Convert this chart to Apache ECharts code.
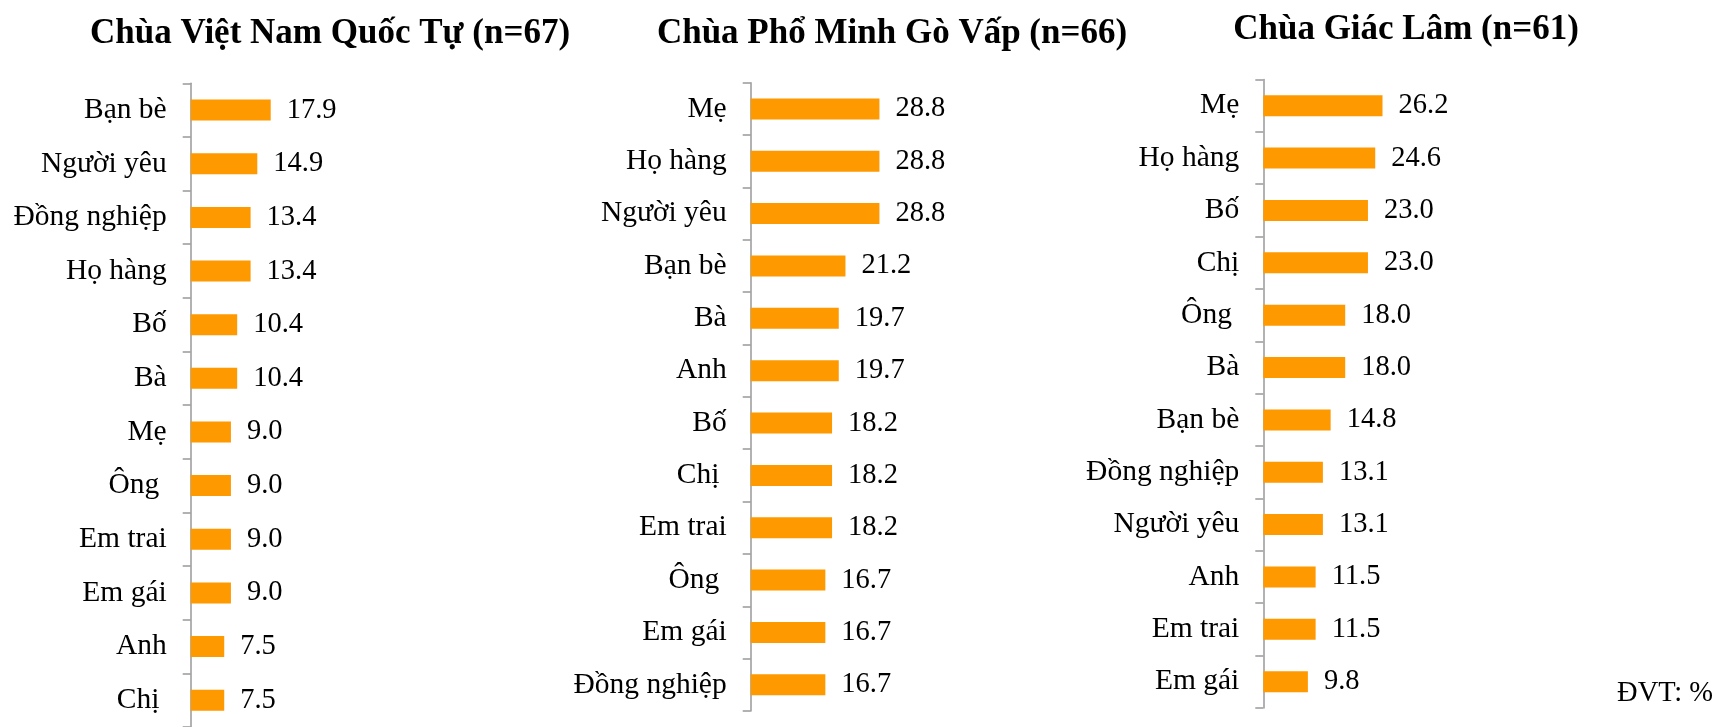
<!DOCTYPE html>
<html><head><meta charset="utf-8">
<script src="https://cdn.jsdelivr.net/npm/echarts@6/dist/echarts.min.js"></script>
<style>html,body{margin:0;padding:0;background:#fff}#c{width:1718px;height:727px}</style>
</head><body><div id="c"></div>
<script>
const titles = ['Chùa Việt Nam Quốc Tự (n=67)', 'Chùa Phổ Minh Gò Vấp (n=66)', 'Chùa Giác Lâm (n=61)'];
const cats1 = ['Bạn bè','Người yêu','Đồng nghiệp','Họ hàng','Bố','Bà','Mẹ','Ông ','Em trai','Em gái','Anh','Chị '];
const vals1 = [17.9,14.9,13.4,13.4,10.4,10.4,9.0,9.0,9.0,9.0,7.5,7.5];
const cats2 = ['Mẹ','Họ hàng','Người yêu','Bạn bè','Bà','Anh','Bố','Chị ','Em trai','Ông ','Em gái','Đồng nghiệp'];
const vals2 = [28.8,28.8,28.8,21.2,19.7,19.7,18.2,18.2,18.2,16.7,16.7,16.7];
const cats3 = ['Mẹ','Họ hàng','Bố','Chị','Ông ','Bà','Bạn bè','Đồng nghiệp','Người yêu','Anh','Em trai','Em gái'];
const vals3 = [26.2,24.6,23.0,23.0,18.0,18.0,14.8,13.1,13.1,11.5,11.5,9.8];
const unitText = 'ĐVT: %';

const FONT = '"Liberation Serif","Times New Roman",serif';
const cats = [cats1, cats2, cats3];
const vals = [vals1, vals2, vals3];
const grids = [
  {left: 190.7, top: 83.3, width: 30*4.47, height: 647},
  {left: 750.7, top: 82.7, width: 30*4.47, height: 628.3},
  {left: 1263.3, top: 79.5, width: 30*4.55, height: 628.4}
];
const titlePos = [[330, 16], [892, 16], [1406, 12]];

const chart = echarts.init(document.getElementById('c'), null, {renderer: 'canvas'});
const option = {
  animation: false,
  grid: grids,
  xAxis: grids.map((g, i) => ({type: 'value', gridIndex: i, min: 0, max: 30, show: false})),
  yAxis: grids.map((g, i) => ({
    type: 'category', gridIndex: i, data: cats[i], inverse: true,
    axisLine: {show: true, lineStyle: {color: '#999', width: 1.5}},
    axisTick: {show: true, length: 8, lineStyle: {color: '#999', width: 1.5}},
    axisLabel: {color: '#000', fontFamily: FONT, fontSize: 29.5, margin: 24}
  })),
  series: vals.map((v, i) => ({
    type: 'bar', xAxisIndex: i, yAxisIndex: i, data: v, barWidth: 21,
    itemStyle: {color: '#ff9900'},
    label: {show: true, position: 'right', distance: 16, color: '#000', fontFamily: FONT, fontSize: 28.5,
      formatter: p => p.value.toFixed(1)}
  })),
  graphic: titles.map((t, i) => ({
    type: 'text', x: titlePos[i][0], y: titlePos[i][1],
    style: {text: t, font: 'bold 35px ' + FONT, fill: '#000', textAlign: 'center', textVerticalAlign: 'top'}
  })).concat([{
    type: 'text', x: 1713, y: 679,
    style: {text: unitText, font: '28.5px ' + FONT, fill: '#000', textAlign: 'right', textVerticalAlign: 'top'}
  }])
};
chart.setOption(option);
</script></body></html>
